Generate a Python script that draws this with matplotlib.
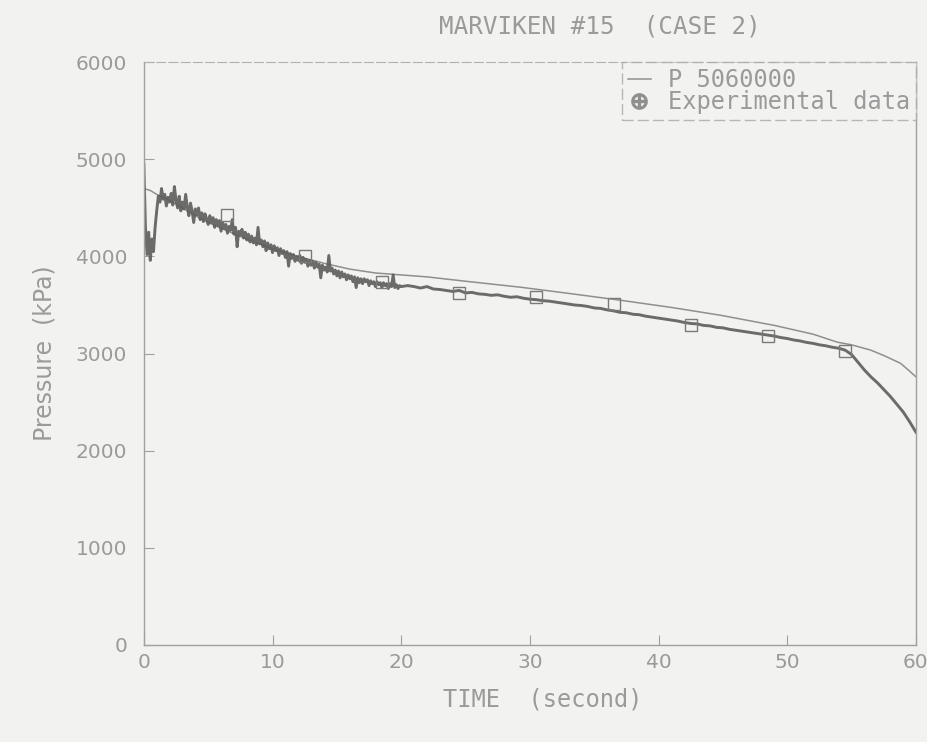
import numpy as np
import matplotlib
matplotlib.use('Agg')
from matplotlib import pyplot as plt
from matplotlib.lines import Line2D

# experimental pressure, 0-20 s sampled every 0.125 s (kPa), one row per second
exp_t_early = np.arange(0.0, 20.001, 0.125)
exp_p_early = [4950, 4300, 4020, 4250, 3960, 4180, 4050, 4300,
               4470, 4620, 4560, 4700, 4590, 4640, 4520, 4610,
               4560, 4650, 4530, 4720, 4580, 4500, 4620, 4470,
               4560, 4490, 4640, 4510, 4420, 4550, 4470, 4350,
               4490, 4430, 4500, 4380, 4450, 4360, 4440, 4390,
               4330, 4420, 4350, 4400, 4300, 4380, 4320, 4370,
               4260, 4350, 4290, 4330, 4240, 4310, 4270, 4380,
               4230, 4300, 4100, 4260, 4220, 4280, 4190, 4250,
               4170, 4230, 4150, 4210, 4140, 4190, 4120, 4300,
               4130, 4170, 4100, 4160, 4060, 4140, 4080, 4120,
               4040, 4110, 4060, 4090, 4010, 4080, 4030, 4060,
               3990, 4050, 3900, 4030, 3980, 4020, 3950, 4000,
               3960, 4010, 3930, 3990, 3940, 3970, 3900, 3960,
               3910, 3950, 3880, 3940, 3890, 3920, 3780, 3910,
               3860, 3890, 3840, 4010, 3850, 3880, 3820, 3860,
               3800, 3850, 3780, 3840, 3790, 3820, 3760, 3810,
               3770, 3800, 3740, 3790, 3680, 3780, 3730, 3770,
               3720, 3770, 3740, 3760, 3700, 3750, 3720, 3740,
               3690, 3740, 3710, 3730, 3680, 3730, 3700, 3720,
               3670, 3720, 3690, 3810, 3680, 3710, 3670, 3700,
               3690]

# experimental pressure, 20.5-60 s sampled every 0.5 s (kPa)
exp_t_late = np.arange(20.5, 60.001, 0.5)
exp_p_late = [3700, 3690, 3675, 3690, 3665, 3660, 3650, 3640, 3650, 3625,
              3630, 3615, 3610, 3600, 3605, 3590, 3580, 3585, 3570, 3560,
              3555, 3545, 3540, 3530, 3520, 3510, 3500, 3495, 3485, 3470,
              3465, 3450, 3440, 3425, 3420, 3405, 3400, 3385, 3375, 3365,
              3355, 3345, 3335, 3320, 3310, 3305, 3290, 3285, 3270, 3265,
              3250, 3240, 3230, 3220, 3210, 3200, 3190, 3180, 3165, 3155,
              3140, 3130, 3115, 3105, 3090, 3080, 3065, 3055, 3035, 2990,
              2910, 2830, 2760, 2700, 2630, 2560, 2480, 2400, 2300, 2190]

# symbols on the measured curve
mark_t = [6.5, 12.5, 18.5, 24.5, 30.5, 36.5, 42.5, 48.5, 54.5]
mark_p = [4430, 4000, 3740, 3620, 3580, 3515, 3290, 3185, 3030]

# RELAP5 volume 5060000 pressure
calc_t = [0, 0.5, 1, 2, 3, 4, 5, 6, 8, 10, 12, 14, 16, 18, 20, 22, 25, 29.3,
          33, 37, 41, 44.8, 49, 52, 53.9, 55, 56.5, 57.5, 58.8, 59.5, 60]
calc_p = [4700, 4680, 4640, 4580, 4500, 4420, 4350, 4290, 4180, 4080, 4000,
          3930, 3870, 3830, 3810, 3790, 3745, 3683, 3620, 3550, 3475, 3395,
          3290, 3200, 3117, 3090, 3035, 2980, 2900, 2820, 2760]

bg = '#f2f2f0'
txt = '#9a9a9a'
mono = 'DejaVu Sans Mono'

fig = plt.figure(figsize=(9.28, 7.42), dpi=100, facecolor=bg)
ax = fig.add_axes([0.155, 0.131, 0.832, 0.785], facecolor=bg)

exp_t = np.concatenate([exp_t_early, exp_t_late])
exp_p = np.concatenate([exp_p_early, exp_p_late])

ax.plot(calc_t, calc_p, color='#8f8f8f', lw=1.1)
ax.plot(exp_t, exp_p, color='#5c5c5c', lw=2.1, alpha=0.9)
ax.plot(mark_t, mark_p, 's', mfc='none', mec='#7a7a7a', ms=8, mew=1.0)

ax.set_xlim(0, 60)
ax.set_ylim(0, 6000)
ax.set_xticks(range(0, 61, 10))
ax.set_yticks(range(0, 6001, 1000))
ax.tick_params(direction='in', length=7, color='#a0a0a0', labelcolor=txt,
               labelsize=14.5)
ax.tick_params(axis='y', pad=12)
ax.tick_params(axis='x', pad=6)

for s in ['left', 'right', 'bottom']:
    ax.spines[s].set_color('#a0a0a0')
    ax.spines[s].set_linewidth(1.0)
ax.spines['top'].set_color('#b0b0b0')
ax.spines['top'].set_linestyle((0, (8, 3)))

ax.set_ylabel('Pressure  (kPa)', fontsize=17, color=txt, labelpad=14)
fig.text(0.585, 0.057, 'TIME  (second)', family=mono, fontsize=17,
         color=txt, ha='center', va='center')
fig.text(0.646, 0.964, 'MARVIKEN #15  (CASE 2)', family=mono, fontsize=17.5,
         color=txt, ha='center', va='center')

handles = [Line2D([], [], color='#8f8f8f', lw=1.1),
           Line2D([], [], ls='none', marker=r'$\oplus$', color='#8f8f8f',
                  ms=11)]
leg = ax.legend(handles, ['P 5060000', 'Experimental data'],
                loc='upper right', borderaxespad=0, frameon=True,
                fancybox=False, handlelength=1.0, handletextpad=0.7,
                labelspacing=-0.1, borderpad=0.25,
                prop={'family': mono, 'size': 17})
for t in leg.get_texts():
    t.set_color(txt)
fr = leg.get_frame()
fr.set_facecolor(bg)
fr.set_edgecolor('#a8a8a8')
fr.set_linestyle((0, (8, 3)))
fr.set_linewidth(1.0)

fig.savefig('out.png', dpi=100, facecolor=bg)
